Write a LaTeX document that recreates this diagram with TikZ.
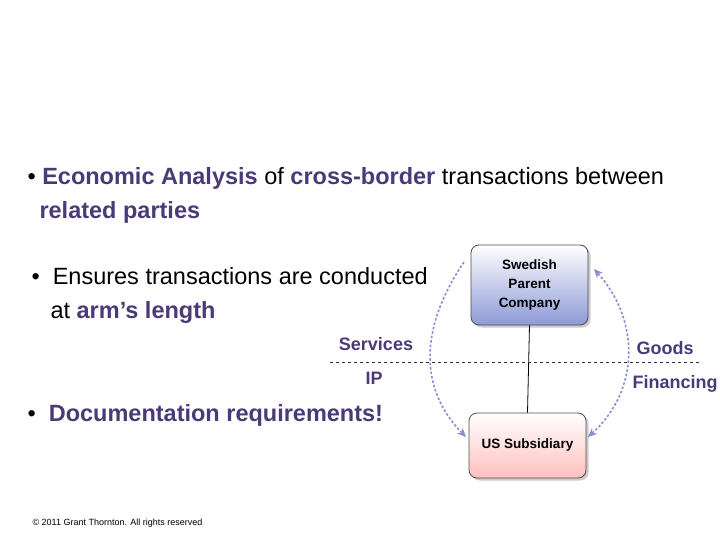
\documentclass[tikz,border=0pt]{standalone}
\usepackage{fontspec}
\setmainfont{Liberation Sans}
\usetikzlibrary{shadows,arrows.meta}
\definecolor{pur}{HTML}{4A3A78}
\definecolor{arc}{HTML}{8C8CD0}
\definecolor{swb}{HTML}{8D9AD6}
\begin{document}
\begin{tikzpicture}[x=1pt,y=-1pt,
  ent/.style={draw=black!70,line width=0.8pt,rounded corners=8pt,minimum width=117pt,align=center,font=\fontsize{13.5}{19}\selectfont\bfseries,drop shadow={shadow xshift=2.5pt,shadow yshift=-2.5pt,fill=black!40}},
  lab/.style={font=\fontsize{18}{20}\selectfont\bfseries,text=pur},
  big/.style={font=\fontsize{23.5}{34}\selectfont,align=left,anchor=west},
  flow/.style={draw=arc,line width=1.6pt,dash pattern=on 2.5pt off 2pt,-{Stealth[length=9pt,width=8pt]}}]
\useasboundingbox (0,0) rectangle (720,540);
\node[big] (b1) at (24,195)
 {\textbullet\ \textcolor{pur}{\bfseries Economic Analysis} of \textcolor{pur}{\bfseries cross-border} transactions between\\
 \hspace*{12pt}\textcolor{pur}{\bfseries related parties}};
\node[big] (b2) at (28,295)
 {\textbullet\ \ Ensures transactions are conducted\\\hspace*{19pt}at \textcolor{pur}{\bfseries arm's length}};
\node[big] (b3) at (24,415)
 {\textbullet\ \ \textcolor{pur}{\bfseries Documentation requirements!}};
\node[ent,minimum height=80pt,top color=white,bottom color=swb] (sw) at (529.5,285) {Swedish\\Parent\\Company};
\node[ent,minimum height=65pt,top color=white,bottom color=red!25] (us) at (527.5,445.5) {US Subsidiary};
\draw[line width=0.8pt] (sw.south) -- (us.north);
\coordinate (hl) at (330,362); \coordinate (hr) at (700,362);
\draw[dashed,black!80,line width=0.8pt] (hl) -- (hr);
\node[lab] (sv) at (376,344) {Services};
\node[lab] (ip) at (374,378) {IP};
\node[lab] (gd) at (665,348) {Goods};
\node[lab] (fn) at (675,384) {Financing};
\coordinate (la) at (464,262); \coordinate (lb) at (466,437);
\draw[flow] (la) .. controls (418,330) and (420,390) .. (lb);
\coordinate (ra) at (588,437); \coordinate (rb) at (594,269);
\draw[flow,{Stealth[length=9pt,width=8pt]}-{Stealth[length=9pt,width=8pt]}] (ra) .. controls (640,390) and (640,320) .. (rb);
\node[font=\fontsize{9}{10}\selectfont,anchor=west] (cp) at (29,523) {\textcopyright{} 2011 Grant Thornton. All rights reserved};
\end{tikzpicture}
\end{document}
